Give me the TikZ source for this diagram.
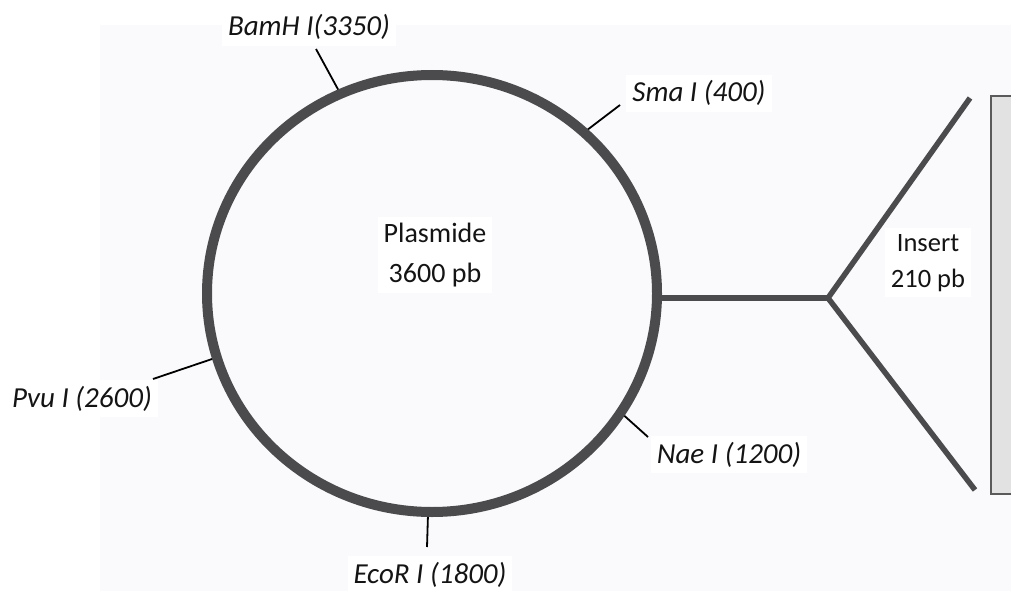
\documentclass[tikz,border=0pt]{standalone}
\usepackage{fontspec}
\setmainfont{Carlito}
\definecolor{ringcol}{HTML}{4B4B4E}
\definecolor{bgfaint}{HTML}{FAFAFC}
\definecolor{insfill}{HTML}{E2E2E2}
\definecolor{insdraw}{HTML}{5A5A5A}
\begin{document}
\begin{tikzpicture}[x=1pt,y=-1pt,
  lbl/.style={font=\fontsize{29}{34}\selectfont\itshape, text=black!92, fill=white, inner sep=6pt, anchor=base},
  mid/.style={font=\fontsize{28}{40}\selectfont, text=black!92, fill=white, align=center, inner sep=6pt, anchor=base},
  tickline/.style={line width=1.8pt, black},
  arm/.style={line width=5.5pt, ringcol, line join=miter}]
\clip (0,0) rectangle (1011,591);
\fill[white] (0,0) rectangle (1011,591);
\fill[bgfaint] (100,25) rectangle (1011,591);

% labels
\node[lbl] (bam) at (309,36) {BamH I(3350)};
\node[lbl] (sma) at (699,102) {Sma I (400)};
\node[lbl] (pvu) at (82,407) {Pvu I (2600)};
\node[lbl] (nae) at (729,463) {Nae I (1200)};
\node[lbl] (eco) at (430,583) {EcoR I (1800)};
\node[mid] (plas) at (435,282) {Plasmide\\3600 pb};
\node[mid, font=\fontsize{26.5}{36}\selectfont] (ins) at (928,287) {Insert\\210 pb};

% points on the ring
\coordinate (rB) at ({432+225*cos(114)},{293.5-218.5*sin(114)});
\coordinate (rS) at ({432+225*cos(47.5)},{293.5-218.5*sin(47.5)});
\coordinate (rP) at ({432+225*cos(197)},{293.5-218.5*sin(197)});
\coordinate (rN) at ({432+225*cos(327)},{293.5-218.5*sin(327)});
\coordinate (rE) at ({432+225*cos(269)},{293.5-218.5*sin(269)});
\coordinate (rR) at (655,298);

% tick free ends
\coordinate (tB) at (316,49);
\coordinate (tS) at (620,105);
\coordinate (tP) at (153,379);
\coordinate (tN) at (648,437);
\coordinate (tE) at (427,547);

\draw[tickline] (tB) -- (rB);
\draw[tickline] (tS) -- (rS);
\draw[tickline] (tP) -- (rP);
\draw[tickline] (tN) -- (rN);
\draw[tickline] (tE) -- (rE);

% insert connector
\coordinate (fork) at (828,298);
\coordinate (armU) at (970,98);
\coordinate (armD) at (975,490);
\draw[arm] (rR) -- (fork);
\draw[arm] (armU) -- (fork) -- (armD);

% ring
\draw[ringcol, line width=10pt] (432,293.5) ellipse [x radius=225pt, y radius=218.5pt];

% insert bar
\draw[insdraw, line width=2pt, fill=insfill] (991,96) rectangle (1020,494);
\end{tikzpicture}
\end{document}
